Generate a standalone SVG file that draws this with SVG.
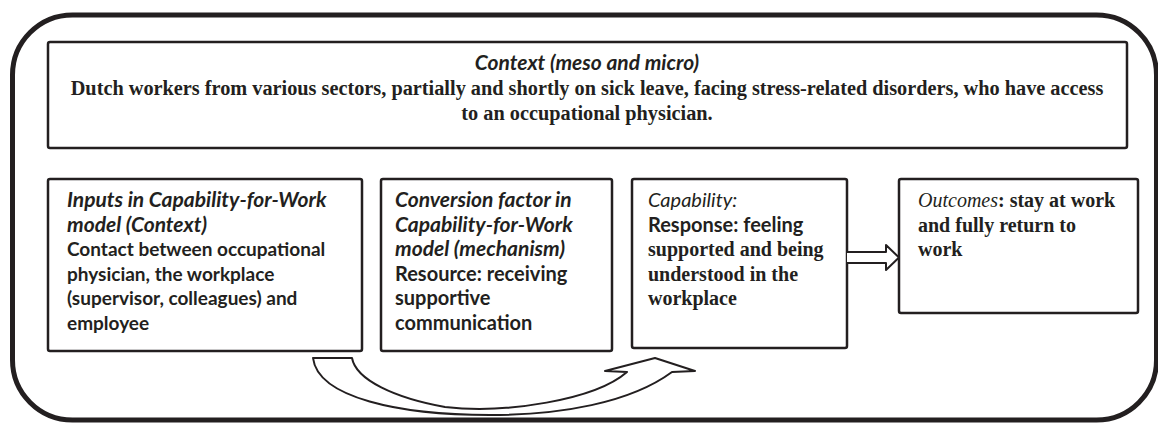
<svg xmlns="http://www.w3.org/2000/svg" width="1158" height="424" viewBox="0 0 1158 424">
<style>
.box{fill:#fff;stroke:#231f20;stroke-width:2.5}
.serif{font-family:"Liberation Serif","Times New Roman",serif;font-size:20px;fill:#231f20}
.sans{font-family:Lato,"Open Sans",sans-serif;font-size:19.5px;fill:#231f20}
.hd{font-family:Lato,"Open Sans",sans-serif;font-size:21px;font-style:italic;font-weight:bold;fill:#231f20}
.b{font-weight:bold}
.i{font-style:italic}
.conn{fill:#fff;stroke:#231f20;stroke-width:2;stroke-linejoin:round}
</style>
<rect width="1158" height="424" fill="#fff"/>
<g id="frame">
<rect x="12.5" y="15" width="1144" height="405" rx="60" ry="60" fill="none" stroke="#231f20" stroke-width="5"/>
</g>
<g id="context">
<rect class="box" x="48" y="42" width="1079" height="106" rx="2"/>
<text class="hd" x="587" y="70" text-anchor="middle">Context (meso and micro)</text>
<text class="serif b" x="587" y="95" text-anchor="middle" style="font-size:20.3px">Dutch workers from various sectors, partially and shortly on sick leave, facing stress-related disorders, who have access</text>
<text class="serif b" x="587" y="120" text-anchor="middle" style="font-size:20.3px">to an occupational physician.</text>
</g>
<g id="inputs">
<rect class="box" x="48" y="179" width="314" height="172" rx="2"/>
<text class="hd" x="67" y="207">Inputs in Capability-for-Work</text>
<text class="hd" x="67" y="231.5">model (Context)</text>
<text class="sans b" x="67" y="256" style="font-size:19px">Contact between occupational</text>
<text class="sans b" x="67" y="280.5" style="font-size:19px">physician, the workplace</text>
<text class="sans b" x="67" y="305" style="font-size:19px">(supervisor, colleagues) and</text>
<text class="sans b" x="67" y="329.5" style="font-size:19px">employee</text>
</g>
<g id="conversion">
<rect class="box" x="381" y="179" width="231" height="172" rx="2"/>
<text class="hd" x="395" y="207">Conversion factor in</text>
<text class="hd" x="395" y="231.5">Capability-for-Work</text>
<text class="hd" x="395" y="256">model (mechanism)</text>
<text class="sans b" x="395" y="280.5" style="font-size:20px">Resource: receiving</text>
<text class="sans b" x="395" y="305" style="font-size:20px">supportive</text>
<text class="sans b" x="395" y="329.5" style="font-size:20px">communication</text>
</g>
<g id="capability">
<rect class="box" x="632" y="179" width="215" height="169" rx="2"/>
<text class="sans i" x="648" y="207" style="font-size:20px">Capability:</text>
<text class="sans b" x="648" y="231.5" style="font-size:20px">Response: feeling</text>
<text class="serif b" x="648" y="256">supported and being</text>
<text class="serif b" x="648" y="280.5">understood in the</text>
<text class="serif b" x="648" y="305">workplace</text>
</g>
<g id="outcomes">
<rect class="box" x="899" y="179" width="239" height="134" rx="2"/>
<text class="serif" x="918" y="207"><tspan class="i">Outcomes</tspan><tspan class="b">: stay at work</tspan></text>
<text class="serif b" x="918" y="231.5">and fully return to</text>
<text class="serif b" x="918" y="256">work</text>
</g>
<g id="connectors">
<path class="conn" d="M847,252 H886 V245 L899,257.5 L886,270 V263 H847"/>
<path class="conn" d="M313,358 H352 C356,380 395,398 445,407 C505,414 595,400 627,372 L605,371 L655,358 L695,371 L672,372 C630,403 560,415 490,415 C400,415 318,398 313,358 Z"/>
</g>
</svg>
